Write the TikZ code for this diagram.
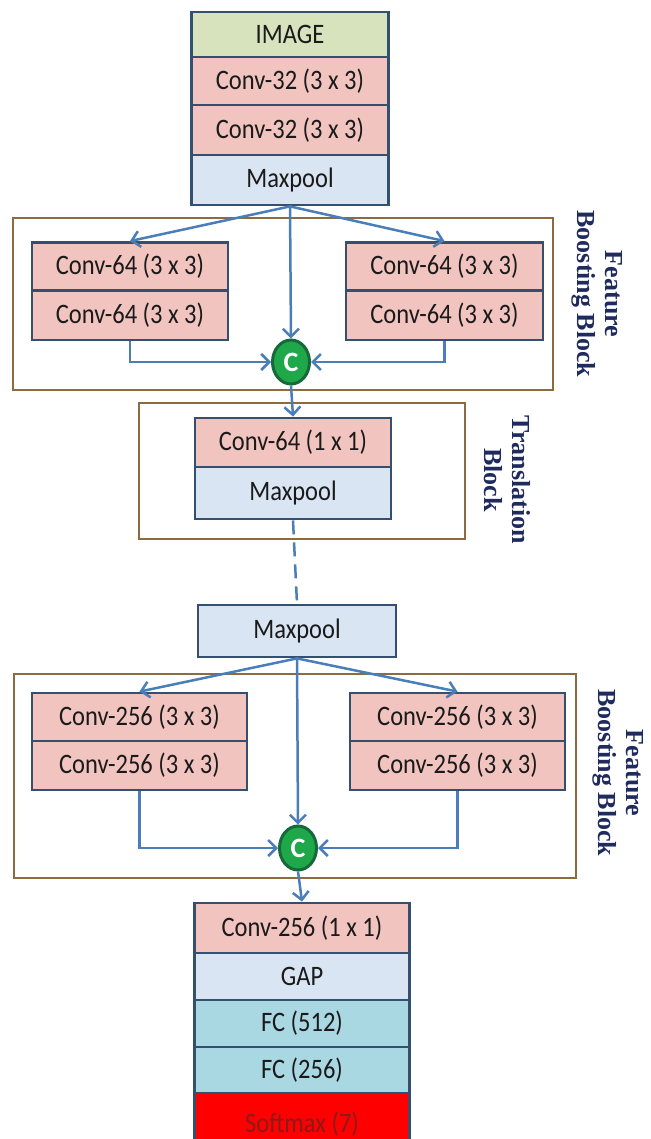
\documentclass[tikz,border=0pt]{standalone}
\usepackage{fontspec}
\setmainfont{Carlito}
\newfontfamily\labelfont{Liberation Serif}
\usetikzlibrary{arrows.meta,shapes.geometric}
\definecolor{bordc}{HTML}{34506E}
\definecolor{arrc}{HTML}{4A7EBB}
\definecolor{blockc}{HTML}{8B6B3F}
\definecolor{imgc}{HTML}{D6E3BC}
\definecolor{convc}{HTML}{F2C4C0}
\definecolor{poolc}{HTML}{DAE5F4}
\definecolor{fcc}{HTML}{A9D8E3}
\definecolor{smc}{HTML}{FF0000}
\definecolor{smtext}{HTML}{8B1A1A}
\definecolor{cfill}{HTML}{1FA84A}
\definecolor{cbord}{HTML}{17693A}
\definecolor{labc}{HTML}{1F2B5E}
\definecolor{txtc}{HTML}{1A1A1A}
\newcommand{\tallt}[1]{\scalebox{1}[1.15]{#1}}
\tikzset{
  layer/.style={draw=bordc, line width=2.8pt, inner sep=0pt, font=\fontsize{24.5}{27}\selectfont, text=txtc},
  imgbox/.style={layer, fill=imgc},
  convbox/.style={layer, fill=convc},
  poolbox/.style={layer, fill=poolc},
  fcbox/.style={layer, fill=fcc},
  smbox/.style={layer, fill=smc, text=smtext},
  blockbox/.style={draw=blockc, line width=1.4pt},
  concat/.style={ellipse, draw=cbord, line width=3pt, fill=cfill, text=white, inner sep=0pt, minimum width=37pt, minimum height=44pt, font=\bfseries\fontsize{28}{30}\selectfont},
  flow/.style={draw=arrc, line width=2.5pt, -{Straight Barb[length=8pt,width=16pt,line width=2.5pt]}},
  dashflow/.style={draw=arrc, line width=2.5pt, dash pattern=on 14pt off 8pt},
  blocklabel/.style={rotate=-90, align=center, text=labc, font=\labelfont\bfseries\fontsize{26}{28}\selectfont}
}
\begin{document}
\begin{tikzpicture}[x=1pt,y=-1pt]
\clip (0,0) rectangle (650,1139);
% block frames
\draw[blockbox] (13,218) rectangle (553,390);
\draw[blockbox] (139,403) rectangle (465,539);
\draw[blockbox] (14,674) rectangle (576,878);
% top stack
\node[imgbox, minimum width=197pt, minimum height=45pt] (img) at (290,34.5) {\tallt{IMAGE}};
\node[convbox, minimum width=197pt, minimum height=48pt] (c1) at (290,81) {\tallt{Conv-32 (3 x 3)}};
\node[convbox, minimum width=197pt, minimum height=50pt] (c2) at (290,130) {\tallt{Conv-32 (3 x 3)}};
\node[poolbox, minimum width=197pt, minimum height=50pt] (mp1) at (290,180) {\tallt{Maxpool}};
% feature boosting block 1
\node[convbox, minimum width=196pt, minimum height=48pt] (l1a) at (130,266.5) {\tallt{Conv-64 (3 x 3)}};
\node[convbox, minimum width=196pt, minimum height=49pt] (l1b) at (130,315.5) {\tallt{Conv-64 (3 x 3)}};
\node[convbox, minimum width=197pt, minimum height=48pt] (r1a) at (444.5,266.5) {\tallt{Conv-64 (3 x 3)}};
\node[convbox, minimum width=197pt, minimum height=49pt] (r1b) at (444.5,315.5) {\tallt{Conv-64 (3 x 3)}};
\node[concat] (cc1) at (291,362) {C};
\node[blocklabel] (lab1) at (597,294) {Feature\\Boosting Block};
% translation block
\node[convbox, minimum width=196pt, minimum height=49pt] (t1) at (293,442.5) {\tallt{Conv-64 (1 x 1)}};
\node[poolbox, minimum width=196pt, minimum height=52pt] (t2) at (293,493) {\tallt{Maxpool}};
\node[blocklabel] (lab2) at (507,480) {Translation\\Block};
% maxpool 2
\node[poolbox, minimum width=198pt, minimum height=52pt] (mp2) at (297,631) {\tallt{Maxpool}};
% feature boosting block 2
\node[convbox, minimum width=215pt, minimum height=48pt] (l2a) at (139.5,717) {\tallt{Conv-256 (3 x 3)}};
\node[convbox, minimum width=215pt, minimum height=49pt] (l2b) at (139.5,765.5) {\tallt{Conv-256 (3 x 3)}};
\node[convbox, minimum width=215pt, minimum height=48pt] (r2a) at (457.5,717) {\tallt{Conv-256 (3 x 3)}};
\node[convbox, minimum width=215pt, minimum height=49pt] (r2b) at (457.5,765.5) {\tallt{Conv-256 (3 x 3)}};
\node[concat] (cc2) at (298,848) {C};
\node[blocklabel] (lab3) at (618,773) {Feature\\Boosting Block};
% bottom stack
\node[convbox, minimum width=215pt, minimum height=50pt] (b1) at (302,928) {\tallt{Conv-256 (1 x 1)}};
\node[poolbox, minimum width=215pt, minimum height=47pt] (b2) at (302,976.5) {\tallt{GAP}};
\node[fcbox, minimum width=215pt, minimum height=47pt] (b3) at (302,1023.5) {\tallt{FC (512)}};
\node[fcbox, minimum width=215pt, minimum height=46pt] (b4) at (302,1070) {\tallt{FC (256)}};
\node[smbox, minimum width=215pt, minimum height=52pt, text depth=0pt] (b5) at (302,1119) {\raisebox{-6pt}{\tallt{Softmax (7)}}};
% connectors block 1
\draw[flow] (mp1.south) -- (l1a.north);
\draw[flow] (mp1.south) -- (r1a.north);
\draw[flow] (mp1.south) -- (cc1.north);
\draw[flow] (l1b.south) |- (cc1.west);
\draw[flow] (r1b.south) |- (cc1.east);
\draw[flow] (cc1.south) -- (t1.north);
\draw[dashflow] (t2.south) -- (mp2.north);
% connectors block 2
\draw[flow] (mp2.south) -- (l2a.north);
\draw[flow] (mp2.south) -- (r2a.north);
\draw[flow] (mp2.south) -- (cc2.north);
\draw[flow] (l2b.south) |- (cc2.west);
\draw[flow] (r2b.south) |- (cc2.east);
\draw[flow] (cc2.south) -- (b1.north);
\end{tikzpicture}
\end{document}
